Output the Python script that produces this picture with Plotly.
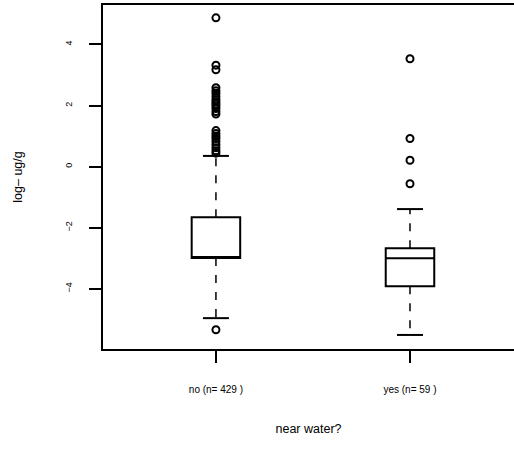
import plotly.graph_objects as go

# ===================
# Dados
# ===================
groups = ["no (n= 429 )", "yes (n= 59 )"]
xpos = [1, 2]
q1 = [-2.99, -3.92]
median = [-2.99, -3.0]
q3 = [-1.66, -2.67]
lower_whisker = [-4.96, -5.51]
upper_whisker = [0.35, -1.39]
outliers_no = [4.87, 3.32, 3.17, 2.58, 2.48, 2.40, 2.30, 2.20, 2.12, 2.05, 1.98,
               1.90, 1.80, 1.72, 1.18, 1.08, 1.00, 0.92, 0.82, 0.72, 0.62,
               0.52, 0.44, -5.34]
outliers_yes = [3.53, 0.92, 0.21, -0.56]

BOX_W = 0.25
CAP_W = 0.134
LINE = "black"
FONT = "Liberation Sans, Arial, sans-serif"

fig = go.Figure()

# caixas (quartis)
for i in range(2):
    fig.add_trace(go.Box(
        x=[xpos[i]], q1=[q1[i]], median=[median[i]], q3=[q3[i]],
        lowerfence=[q1[i]], upperfence=[q3[i]],
        width=BOX_W, fillcolor="white",
        line=dict(color=LINE, width=2), boxpoints=False,
        showlegend=False, hoverinfo="skip"
    ))

# bigodes tracejados + hastes
for i in range(2):
    x = xpos[i]
    fig.add_trace(go.Scatter(
        x=[x, x, None, x, x],
        y=[q3[i], upper_whisker[i], None, q1[i], lower_whisker[i]],
        mode="lines", line=dict(color=LINE, width=1.5, dash="8px,9px"),
        showlegend=False, hoverinfo="skip"
    ))
    fig.add_trace(go.Scatter(
        x=[x - CAP_W / 2, x + CAP_W / 2, None, x - CAP_W / 2, x + CAP_W / 2],
        y=[upper_whisker[i], upper_whisker[i], None, lower_whisker[i], lower_whisker[i]],
        mode="lines", line=dict(color=LINE, width=2),
        showlegend=False, hoverinfo="skip"
    ))

# outliers
for x, vals in [(xpos[0], outliers_no), (xpos[1], outliers_yes)]:
    fig.add_trace(go.Scatter(
        x=[x] * len(vals), y=vals, mode="markers",
        marker=dict(symbol="circle-open", size=7, color=LINE, line=dict(width=2)),
        showlegend=False, hoverinfo="skip"
    ))

fig.update_layout(
    width=514, height=450,
    margin=dict(l=103, r=0, t=5, b=101),
    plot_bgcolor="white", paper_bgcolor="white",
    font=dict(family=FONT, color="black"),
    showlegend=False,
)
fig.update_xaxes(
    range=[0.418, 2.536], tickvals=xpos, ticktext=groups,
    showgrid=False, zeroline=False,
    showline=True, linecolor=LINE, linewidth=2, mirror=True,
    ticks="outside", ticklen=12, tickwidth=2, tickcolor=LINE,
    tickfont=dict(size=10), ticklabelstandoff=18,
    title=dict(text="near water?", font=dict(size=12.5), standoff=30),
)
fig.update_yaxes(
    range=[-5.97, 5.29], tickvals=[-4, -2, 0, 2, 4],
    showgrid=False, zeroline=False,
    showline=True, linecolor=LINE, linewidth=2, mirror=False,
    ticks="outside", ticklen=12, tickwidth=2, tickcolor=LINE,
    tickfont=dict(size=9), tickangle=-90, ticklabelstandoff=13,
    title=dict(text="log– ug/g", font=dict(size=12.5), standoff=39),
)

fig.write_html("out.html", config={"displayModeBar": False},
               post_script="document.body.style.margin='0';document.body.style.overflow='hidden';")
